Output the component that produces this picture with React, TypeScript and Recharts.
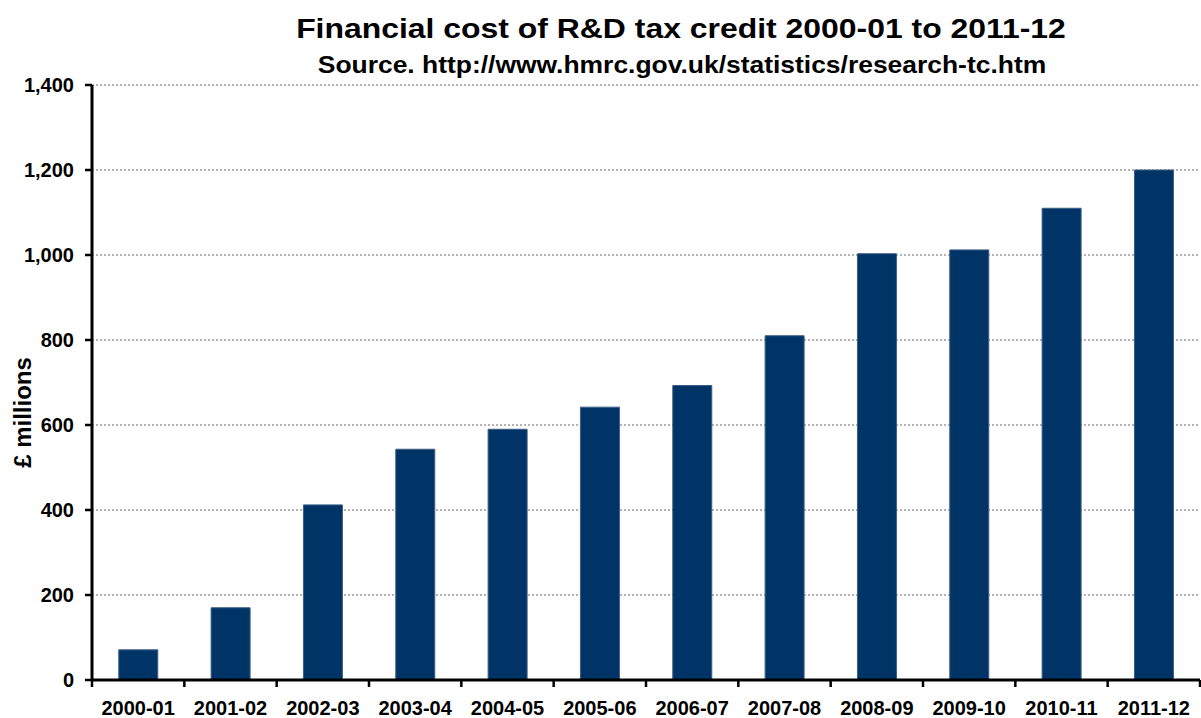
import React from "react";
import { BarChart, Bar, XAxis, YAxis, CartesianGrid } from "recharts";

const categories = ["2000-01", "2001-02", "2002-03", "2003-04", "2004-05", "2005-06", "2006-07", "2007-08", "2008-09", "2009-10", "2010-11", "2011-12"];
const costValues = [71, 170, 412, 543, 590, 642, 693, 810, 1003, 1012, 1110, 1200];
const yTicks = [0, 200, 400, 600, 800, 1000, 1200, 1400];

const data = categories.map((c, i) => ({ year: c, cost: costValues[i] }));

const FONT = "'Liberation Sans', Arial, sans-serif";

const XTick = (props: any) => {
  const { x, y, payload, index, width } = props;
  const band = (width || 1108) / categories.length;
  const half = band / 2;
  return (
    <g>
      <line x1={x - half} y1={y - 8} x2={x - half} y2={y - 1} stroke="#000" strokeWidth={2.5} />
      {index === categories.length - 1 && (
        <line x1={x + half} y1={y - 8} x2={x + half} y2={y - 1} stroke="#000" strokeWidth={2.5} />
      )}
      <text x={x} y={y + 27} textAnchor="middle" fontFamily={FONT} fontWeight="bold" fontSize={20} fill="#000">
        {payload.value}
      </text>
    </g>
  );
};

const fmt = (v: number) => v.toLocaleString("en-GB");

export default function App() {
  return (
    <div style={{ position: "absolute", left: 0, top: 0, width: 1201, height: 718, background: "#fff" }}>
      <BarChart
        width={1201}
        height={718}
        data={data}
        margin={{ top: 85, right: 1, bottom: 0, left: 0 }}
        barCategoryGap="29%"
        style={{ position: "absolute", left: 0, top: 0 }}
      >
        <CartesianGrid vertical={false} stroke="#9a9a9a" strokeDasharray="2 2" strokeWidth={1.5} />
        <XAxis
          dataKey="year"
          height={38}
          axisLine={{ stroke: "#000", strokeWidth: 3 }}
          tickLine={false}
          tick={<XTick />}
          interval={0}
        />
        <YAxis
          width={92}
          domain={[0, 1400]}
          ticks={yTicks}
          tickFormatter={fmt}
          axisLine={{ stroke: "#000", strokeWidth: 3 }}
          tickLine={{ stroke: "#000", strokeWidth: 2.5 }}
          tickSize={7}
          tickMargin={11}
          tick={{ fontFamily: FONT, fontWeight: "bold", fontSize: 20, fill: "#000" }}
          label={{ value: "£ millions", angle: -90, position: "insideLeft", offset: 0, dx: 22, dy: 30, style: { fontFamily: FONT, fontWeight: "bold", fontSize: 24, fill: "#000", textAnchor: "middle" } }}
        />
        <Bar dataKey="cost" fill="#003366" stroke="#3d5f85" strokeWidth={1} isAnimationActive={false} />
      </BarChart>
      <svg width={1201} height={85} style={{ position: "absolute", left: 0, top: 0 }}>
        <text
          x={681}
          y={38}
          textAnchor="middle"
          fontFamily={FONT}
          fontWeight="bold"
          fontSize={28}
          fill="#000"
          transform="translate(681,0) scale(1.14,1) translate(-681,0)"
        >
          Financial cost of R&amp;D tax credit 2000-01 to 2011-12
        </text>
        <text
          x={682}
          y={73}
          textAnchor="middle"
          fontFamily={FONT}
          fontWeight="bold"
          fontSize={23}
          fill="#000"
          transform="translate(682,0) scale(1.15,1) translate(-682,0)"
        >
          Source. http://www.hmrc.gov.uk/statistics/research-tc.htm
        </text>
      </svg>
    </div>
  );
}
